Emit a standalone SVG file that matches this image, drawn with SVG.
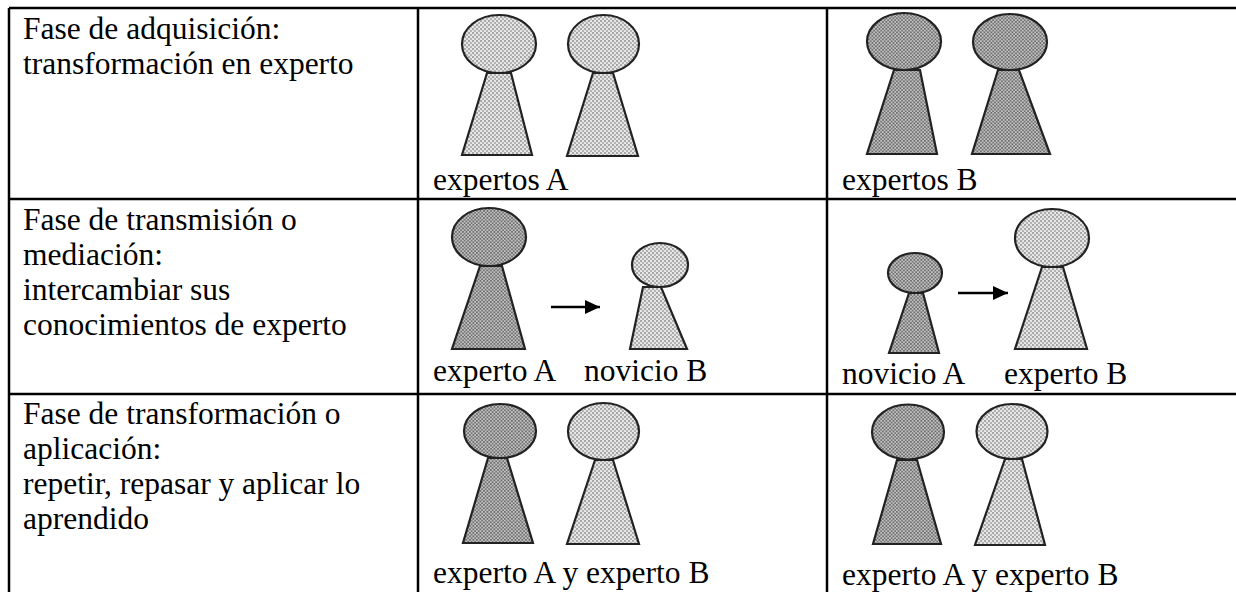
<svg xmlns="http://www.w3.org/2000/svg" width="1236" height="592" viewBox="0 0 1236 592">
<defs>
<pattern id="dotsLight" width="4" height="4" patternUnits="userSpaceOnUse">
<rect width="4" height="4" fill="#e6e6e6"/>
<circle cx="1" cy="1" r="0.9" fill="#8a8a8a"/>
<circle cx="3" cy="3" r="0.9" fill="#9a9a9a"/>
</pattern>
<pattern id="dotsDark" width="3.5" height="3.5" patternUnits="userSpaceOnUse">
<rect width="3.5" height="3.5" fill="#c2c2c2"/>
<circle cx="0.9" cy="0.9" r="0.9" fill="#555"/>
<circle cx="2.65" cy="2.65" r="0.9" fill="#666"/>
</pattern>
<marker id="arrow" markerUnits="userSpaceOnUse" markerWidth="16" markerHeight="16" refX="15" refY="7" orient="auto">
<path d="M0,0 L15,7 L0,14 Z" fill="#000"/>
</marker>
</defs>
<style>
.grid{stroke:#000;stroke-width:2.5;fill:none}
.light{fill:url(#dotsLight);stroke:#222;stroke-width:2.2}
.dark{fill:url(#dotsDark);stroke:#222;stroke-width:2.2}
.conn{stroke:#000;stroke-width:2.5;fill:none;marker-end:url(#arrow)}
.t{font-family:'Liberation Serif','Times New Roman',Tinos,'Nimbus Roman','Nimbus Roman No9 L','Noto Serif','DejaVu Serif',FreeSerif,Times,serif;font-size:31.5px;fill:#000}
</style>
<rect width="1236" height="592" fill="#fff"/>

<g id="table" class="grid">
<line x1="9" y1="8" x2="1236" y2="8"/>
<line x1="9" y1="199" x2="1236" y2="199"/>
<line x1="9" y1="394" x2="1236" y2="394"/>
<line x1="9" y1="8" x2="9" y2="592"/>
<line x1="418" y1="8" x2="418" y2="592"/>
<line x1="827" y1="8" x2="827" y2="592"/>
</g>

<g class="t">
<g id="phase1">
<text x="23" y="39">Fase de adquisición:</text>
<text x="23" y="74">transformación en experto</text>
</g>
<g id="phase2">
<text x="23" y="230">Fase de transmisión o</text>
<text x="23" y="265">mediación:</text>
<text x="23" y="300">intercambiar sus</text>
<text x="23" y="335">conocimientos de experto</text>
</g>
<g id="phase3">
<text x="23" y="424">Fase de transformación o</text>
<text x="23" y="459">aplicación:</text>
<text x="23" y="494">repetir, repasar y aplicar lo</text>
<text x="23" y="529">aprendido</text>
</g>

<g id="r1c2">
<polygon class="light" points="487,73 511,73 532,155 462,155"/>
<ellipse class="light" cx="499" cy="44" rx="37" ry="29"/>
<polygon class="light" points="593,73 613,73 638,156 567,156"/>
<ellipse class="light" cx="603.5" cy="44" rx="35.5" ry="29"/>
<text x="433" y="190">expertos A</text>
</g>

<g id="r1c3">
<polygon class="dark" points="894,70 920,70 937,154 867,154"/>
<ellipse class="dark" cx="904" cy="41.5" rx="37" ry="28.5"/>
<polygon class="dark" points="998,70 1019,70 1050,154 972,154"/>
<ellipse class="dark" cx="1010" cy="42" rx="37" ry="28"/>
<text x="842" y="190">expertos B</text>
</g>

<g id="r2c2">
<polygon class="dark" points="480,266 502,266 525,349 452,349"/>
<ellipse class="dark" cx="489" cy="237" rx="37" ry="29"/>
<polygon class="light" points="643,287 661,287 687,349 630,349"/>
<ellipse class="light" cx="660" cy="265" rx="28" ry="22"/>
<text x="433" y="381">experto A</text>
<text x="584" y="381">novicio B</text>
</g>

<g id="r2c3">
<polygon class="dark" points="909,293 923,293 939,353 889,353"/>
<ellipse class="dark" cx="915" cy="273" rx="27" ry="20"/>
<polygon class="light" points="1042,267 1063,267 1087,349 1015,349"/>
<ellipse class="light" cx="1052" cy="238" rx="37" ry="29"/>
<text x="842" y="384">novicio A</text>
<text x="1004" y="384">experto B</text>
</g>

<g id="r3c2">
<polygon class="dark" points="488,458 507,458 533,543 463,543"/>
<ellipse class="dark" cx="500" cy="431" rx="36" ry="27"/>
<polygon class="light" points="595,460 613,460 639,544 567,544"/>
<ellipse class="light" cx="603.5" cy="431.5" rx="35.5" ry="28.5"/>
<text x="433" y="583">experto A y experto B</text>
</g>

<g id="r3c3">
<polygon class="dark" points="897,460 917,460 941,544 873,544"/>
<ellipse class="dark" cx="908" cy="432" rx="36" ry="27.5"/>
<polygon class="light" points="1005,459 1022,459 1045,545 975,545"/>
<ellipse class="light" cx="1012" cy="431.5" rx="35.5" ry="27.5"/>
<text x="842" y="585">experto A y experto B</text>
</g>
</g>

<g id="connectors">
<line class="conn" x1="551" y1="307" x2="600" y2="307"/>
<line class="conn" x1="958" y1="293" x2="1008" y2="293"/>
</g>
</svg>
